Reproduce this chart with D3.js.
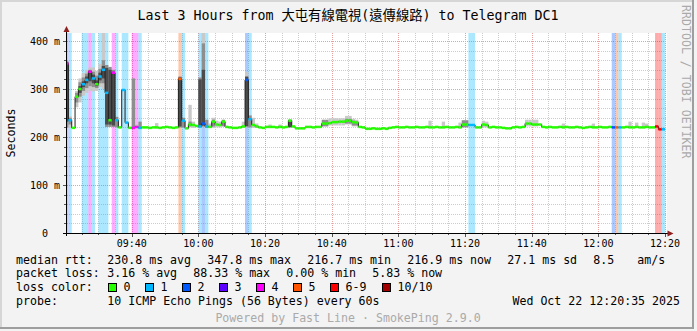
<!DOCTYPE html>
<html>
<head>
<meta charset="utf-8">
<script src="https://d3js.org/d3.v7.min.js"></script>
<style>
  body { margin:0; background:#f3f3f3; }
  svg { display:block; }
  text { font-family: "DejaVu Sans Mono", "Noto Sans CJK TC", monospace; }
</style>
</head>
<body>
<svg width="697" height="331"></svg>
<script>

// one value per minute, slot 0 = 09:20 .. slot 180 = 12:20 (no data yet)
var median = [
  353, 235, 219, 284, 300, 310, 319, 336, 322, 310,
  326, 340, 292, 235, 334, 235, 220, 298, 230, 219,
  219, 221, 219, 220, 220, 219, 220, 220, 219, 220,
  221, 220, 219, 220, 321, 234, 218, 226, 225, 223,
  222, 228, 222, 221, 232, 226, 225, 232, 221, 220,
  219, 219, 220, 222, 319, 237, 225, 222, 220, 219,
  221, 221, 221, 220, 221, 220, 221, 234, 222, 218,
  218, 218, 221, 221, 220, 221, 221, 228, 228, 229,
  231, 231, 232, 232, 234, 234, 231, 230, 221, 220,
  217, 217, 218, 217, 217, 218, 217, 219, 220, 221,
  220, 220, 221, 220, 220, 221, 220, 220, 221, 220,
  220, 221, 220, 220, 221, 220, 220, 221, 220, 226,
  226, 225, 225, 220, 220, 226, 225, 220, 221, 220,
  220, 219, 218, 218, 220, 221, 220, 221, 228, 228,
  226, 226, 226, 221, 220, 221, 220, 220, 221, 220,
  221, 220, 220, 221, 220, 219, 220, 221, 220, 220,
  221, 220, 220, 221, 220, 220, 220, 220, 221, 220,
  220, 221, 220, 220, 221, 220, 220, 222, 216, 216,
  null
];

// lost pings out of 10 per minute
var loss = [
  4, 1, 0, 0, 0, 1, 1, 4, 1, 0,
  1, 1, 1, 0, 4, 1, 0, 1, 1, 0,
  4, 4, 1, 0, 0, 0, 0, 0, 0, 0,
  0, 0, 0, 0, 5, 1, 0, 0, 0, 0,
  1, 2, 1, 0, 0, 0, 0, 0, 0, 0,
  0, 0, 0, 0, 2, 1, 0, 0, 0, 0,
  0, 0, 0, 0, 0, 0, 0, 0, 0, 0,
  0, 0, 0, 0, 0, 0, 0, 0, 0, 0,
  0, 0, 0, 0, 0, 0, 0, 0, 0, 0,
  0, 0, 0, 0, 0, 0, 0, 0, 0, 0,
  0, 0, 0, 0, 0, 0, 0, 0, 0, 0,
  0, 0, 0, 0, 0, 0, 0, 0, 0, 0,
  0, 1, 1, 0, 0, 0, 0, 0, 0, 0,
  0, 0, 0, 0, 0, 0, 0, 0, 0, 0,
  0, 0, 0, 0, 0, 0, 0, 0, 0, 0,
  0, 0, 0, 0, 0, 0, 0, 0, 0, 0,
  0, 0, 0, 0, 2, 5, 1, 0, 0, 0,
  0, 0, 0, 0, 0, 0, 0, 7, 7, 1,
  null
];

// smoke: [slot, low ms, high ms, shade 0 light .. 2 dark]
var smoke = [
  [0, 220, 358, 1], [0, 232, 356, 2],
  [1, 219, 243, 0], [1, 226, 240, 1],
  [3, 262, 296, 0], [3, 272, 292, 1],
  [4, 272, 322, 0], [4, 284, 314, 1], [4, 292, 306, 2],
  [5, 286, 333, 0], [5, 296, 324, 1], [5, 304, 316, 2],
  [6, 292, 340, 0], [6, 302, 332, 1], [6, 312, 326, 2],
  [7, 296, 345, 0], [7, 306, 340, 1], [7, 316, 338, 2],
  [8, 295, 345, 0], [8, 304, 336, 1], [8, 312, 330, 2],
  [9, 296, 338, 0], [9, 302, 328, 1], [9, 306, 318, 2],
  [10, 304, 352, 0], [10, 312, 342, 1], [10, 318, 334, 2],
  [11, 300, 418, 0], [11, 312, 360, 1], [11, 322, 348, 2],
  [12, 221, 350, 1], [12, 226, 344, 2],
  [13, 221, 346, 1], [13, 226, 340, 2],
  [14, 221, 340, 1], [14, 224, 336, 2],
  [15, 220, 242, 1],
  [20, 218, 322, 1],
  [21, 218, 226, 0],
  [22, 218, 232, 1],
  [27, 218, 229, 0],
  [34, 220, 326, 1], [34, 222, 324, 2],
  [35, 220, 240, 1],
  [37, 220, 267, 0], [37, 222, 232, 1],
  [38, 219, 232, 0],
  [40, 220, 324, 1], [40, 222, 320, 2],
  [41, 220, 418, 0], [41, 222, 395, 1], [41, 224, 340, 2],
  [42, 219, 236, 1],
  [43, 219, 228, 0],
  [44, 219, 240, 0], [44, 222, 236, 1],
  [45, 220, 234, 0],
  [46, 220, 232, 0],
  [47, 222, 236, 1],
  [53, 219, 232, 0],
  [54, 220, 336, 0], [54, 222, 326, 2],
  [55, 220, 245, 1],
  [56, 219, 240, 0],
  [57, 219, 228, 0],
  [61, 219, 226, 0],
  [64, 219, 226, 0],
  [67, 220, 236, 2],
  [77, 222, 236, 1], [78, 222, 236, 1],
  [79, 224, 239, 0], [80, 224, 239, 0], [81, 224, 239, 0], [82, 224, 239, 0], [83, 224, 239, 0],
  [84, 226, 244, 0], [84, 228, 238, 1], [85, 226, 244, 0], [85, 228, 238, 1],
  [86, 222, 238, 0], [86, 224, 234, 1], [87, 222, 236, 0], [87, 224, 232, 1],
  [109, 219, 234, 0],
  [113, 219, 232, 0],
  [118, 219, 230, 0],
  [119, 220, 235, 1], [120, 220, 235, 1],
  [125, 220, 234, 0], [126, 220, 232, 0],
  [138, 222, 236, 0], [139, 222, 236, 0], [140, 222, 236, 0], [141, 222, 236, 0],
  [149, 219, 228, 0],
  [158, 219, 228, 0],
  [169, 219, 232, 0],
  [171, 219, 230, 0],
  [173, 219, 230, 0],
  [174, 219, 228, 0]
];

var yTicks = [0, 100, 200, 300, 400];
var yTickLabels = ["0", "100 m", "200 m", "300 m", "400 m"];

var rttStats = ["230.8 ms avg", "347.8 ms max", "216.7 ms min", "216.9 ms now", "27.1 ms sd", "8.5", "am/s"];
var lossStats = ["3.16 % avg", "88.33 % max", "0.00 % min", "5.83 % now"];
var lossLabels = ["0", "1", "2", "3", "4", "5", "6-9", "10/10"];
var lossColors = ["#26ff00", "#00b8ff", "#0059ff", "#5e00ff", "#ff00ff", "#ff5500", "#ff0000", "#a10000"];

var svg = d3.select("svg");

var startTime = new Date(2025, 9, 22, 9, 20, 35);
var endTime = new Date(2025, 9, 22, 12, 20, 35);
var firstSlot = new Date(2025, 9, 22, 9, 20, 0);

var x = d3.scaleTime().domain([startTime, endTime]).range([67, 667]);
var y = d3.scaleLinear().domain([0, 416.67]).range([233, 33]);

function slotStart(k) { return d3.timeMinute.offset(firstSlot, k); }
function slotEnd(k) { return d3.timeMinute.offset(firstSlot, k + 1); }
function lossClass(l) { return l <= 5 ? l : (l < 10 ? 6 : 7); }

// frame
svg.append("rect").attr("width", 697).attr("height", 331).attr("fill", "#f3f3f3");
svg.append("rect").attr("x", 0).attr("y", 0).attr("width", 694).attr("height", 2).attr("fill", "#d6d6d6");
svg.append("rect").attr("x", 0).attr("y", 0).attr("width", 2).attr("height", 329).attr("fill", "#d6d6d6");
svg.append("rect").attr("x", 692).attr("y", 0).attr("width", 2).attr("height", 329).attr("fill", "#9e9e9e");
svg.append("rect").attr("x", 0).attr("y", 327).attr("width", 694).attr("height", 2).attr("fill", "#9e9e9e");

svg.append("rect").attr("x", 67).attr("y", 33).attr("width", 600).attr("height", 200).attr("fill", "#fff");

svg.append("clipPath").attr("id", "plotclip")
  .append("rect").attr("x", 67).attr("y", 33).attr("width", 600).attr("height", 200);

var plot = svg.append("g").attr("clip-path", "url(#plotclip)");

// grid
var hgrid = d3.range(20, 420, 20);
plot.selectAll(".hg").data(hgrid).enter().append("line")
  .attr("x1", 67).attr("x2", 667)
  .attr("y1", function(d) { return Math.round(y(d)) + 0.5; })
  .attr("y2", function(d) { return Math.round(y(d)) + 0.5; })
  .attr("stroke", function(d) { return d % 100 == 0 ? "#e5a0a0" : "#cccccc"; })
  .attr("stroke-dasharray", "1,1");

var vgrid = x.ticks(d3.timeMinute.every(5));
plot.selectAll(".vg").data(vgrid).enter().append("line")
  .attr("x1", function(d) { return Math.round(x(d)) + 0.5; })
  .attr("x2", function(d) { return Math.round(x(d)) + 0.5; })
  .attr("y1", 33).attr("y2", 233)
  .attr("stroke", function(d) { return d.getMinutes() % 20 == 0 ? "#e5a0a0" : "#cccccc"; })
  .attr("stroke-dasharray", "1,1");

// loss bars
var slots = d3.range(median.length).filter(function(k) { return median[k] != null; });

plot.selectAll(".lb").data(slots.filter(function(k) { return loss[k] > 0; })).enter().append("rect")
  .attr("x", function(k) { return x(slotStart(k)); })
  .attr("width", function(k) { return x(slotEnd(k)) - x(slotStart(k)); })
  .attr("y", 33).attr("height", 200)
  .attr("fill", function(k) { return lossColors[lossClass(loss[k])]; })
  .attr("fill-opacity", 0.33);

// smoke
var shades = ["#c9c9c9", "#8e8e8e", "#4b4b4b"];
plot.selectAll(".sm").data(smoke.slice().sort(function(a, b) { return a[3] - b[3]; })).enter().append("rect")
  .attr("x", function(d) { return x(slotStart(d[0])); })
  .attr("width", function(d) { return x(slotEnd(d[0])) - x(slotStart(d[0])); })
  .attr("y", function(d) { return y(d[2]); })
  .attr("height", function(d) { return y(d[1]) - y(d[2]); })
  .attr("fill", function(d) { return shades[d[3]]; });

// median line
var pts = [];
slots.forEach(function(k) {
  pts.push([slotStart(k), median[k]]);
  pts.push([slotEnd(k), median[k]]);
});
var line = d3.line()
  .x(function(d) { return x(d[0]); })
  .y(function(d) { return y(d[1]); });
plot.append("path").attr("d", line(pts))
  .attr("fill", "none").attr("stroke", "#202020").attr("stroke-width", 1);

plot.selectAll(".md").data(slots).enter().append("line")
  .attr("x1", function(k) { return x(slotStart(k)); })
  .attr("x2", function(k) { return x(slotEnd(k)); })
  .attr("y1", function(k) { return y(median[k]); })
  .attr("y2", function(k) { return y(median[k]); })
  .attr("stroke", function(k) { return lossColors[lossClass(loss[k])]; })
  .attr("stroke-width", 2.5);

// ticks
svg.selectAll(".yt").data(hgrid.concat([0])).enter().append("line")
  .attr("x1", function(d) { return d % 100 == 0 ? 63 : 64; }).attr("x2", 66)
  .attr("y1", function(d) { return Math.round(y(d)) + 0.5; })
  .attr("y2", function(d) { return Math.round(y(d)) + 0.5; })
  .attr("stroke", "#555");
svg.selectAll(".xt").data(vgrid).enter().append("line")
  .attr("x1", function(d) { return Math.round(x(d)) + 0.5; })
  .attr("x2", function(d) { return Math.round(x(d)) + 0.5; })
  .attr("y1", 233).attr("y2", function(d) { return d.getMinutes() % 20 == 0 ? 237 : 235; })
  .attr("stroke", "#555");

// axes
svg.append("line").attr("x1", 66.5).attr("x2", 66.5).attr("y1", 236).attr("y2", 29)
  .attr("stroke", "#000");
svg.append("line").attr("x1", 63).attr("x2", 669).attr("y1", 233.5).attr("y2", 233.5)
  .attr("stroke", "#000");
svg.append("path").attr("d", "M63.5,32 L69.5,32 L66.5,26 Z").attr("fill", "#8f2020");
svg.append("path").attr("d", "M667.5,230.5 L667.5,236.5 L673.5,233.5 Z").attr("fill", "#8f2020");

// axis labels
svg.selectAll(".yl").data(yTicks).enter().append("text")
  .attr("x", function(d) { return d == 0 ? 48 : 60; })
  .attr("y", function(d) { return y(d) + 3.6; })
  .attr("text-anchor", "end").attr("font-size", "10px")
  .text(function(d, i) { return yTickLabels[i]; });

var xLabelTicks = x.ticks(d3.timeMinute.every(20));
svg.selectAll(".xl").data(xLabelTicks).enter().append("text")
  .attr("x", function(d) { return x(d); })
  .attr("y", 246.8)
  .attr("text-anchor", "middle").attr("font-size", "10px")
  .text(d3.timeFormat("%H:%M"));

svg.append("text").attr("transform", "translate(15,133) rotate(-90)")
  .attr("text-anchor", "middle").attr("font-size", "11.6px").text("Seconds");

svg.append("text").attr("transform", "translate(682,5) rotate(90)")
  .attr("font-size", "11.6px").attr("fill", "#aaaaaa").text("RRDTOOL / TOBI OETIKER");

// title
svg.append("text").attr("x", 348).attr("y", 19.5).attr("text-anchor", "middle")
  .attr("font-size", "13.3px").text("Last 3 Hours from 大屯有線電視(遠傳線路) to Telegram DC1");

// legend
var fs = "11.6px";
var row = [263.8, 277.4, 291.1, 304.8];
svg.append("text").attr("x", 16).attr("y", row[0]).attr("font-size", fs).text("median rtt:");
var rttX = [107.3, 207.3, 307.3, 407.3, 507.3, 593.3, 637.3];
rttStats.forEach(function(s, i) {
  svg.append("text").attr("x", rttX[i]).attr("y", row[0]).attr("font-size", fs).text(s);
});
svg.append("text").attr("x", 16).attr("y", row[1]).attr("font-size", fs).text("packet loss:");
var lossX = [107.3, 193.3, 286.3, 372.3];
lossStats.forEach(function(s, i) {
  svg.append("text").attr("x", lossX[i]).attr("y", row[1]).attr("font-size", fs).text(s);
});
svg.append("text").attr("x", 16).attr("y", row[2]).attr("font-size", fs).text("loss color:");
var boxX = [108.5, 145.5, 182.5, 219.5, 256.5, 293.5, 330.5, 382.5];
lossLabels.forEach(function(s, i) {
  svg.append("rect").attr("x", boxX[i]).attr("y", 283.5).attr("width", 8).attr("height", 8)
    .attr("fill", lossColors[i]).attr("stroke", "#000");
  svg.append("text").attr("x", boxX[i] + 15).attr("y", row[2]).attr("font-size", fs).text(s);
});
svg.append("text").attr("x", 16).attr("y", row[3]).attr("font-size", fs).text("probe:");
svg.append("text").attr("x", 107.3).attr("y", row[3]).attr("font-size", fs)
  .text("10 ICMP Echo Pings (56 Bytes) every 60s");
svg.append("text").attr("x", 680).attr("y", row[3]).attr("font-size", fs).attr("text-anchor", "end")
  .text("Wed Oct 22 12:20:35 2025");

svg.append("text").attr("x", 348).attr("y", 321.5).attr("text-anchor", "middle")
  .attr("font-size", fs).attr("fill", "#aaaaaa").text("Powered by Fast Line · SmokePing 2.9.0");

</script>
</body>
</html>
